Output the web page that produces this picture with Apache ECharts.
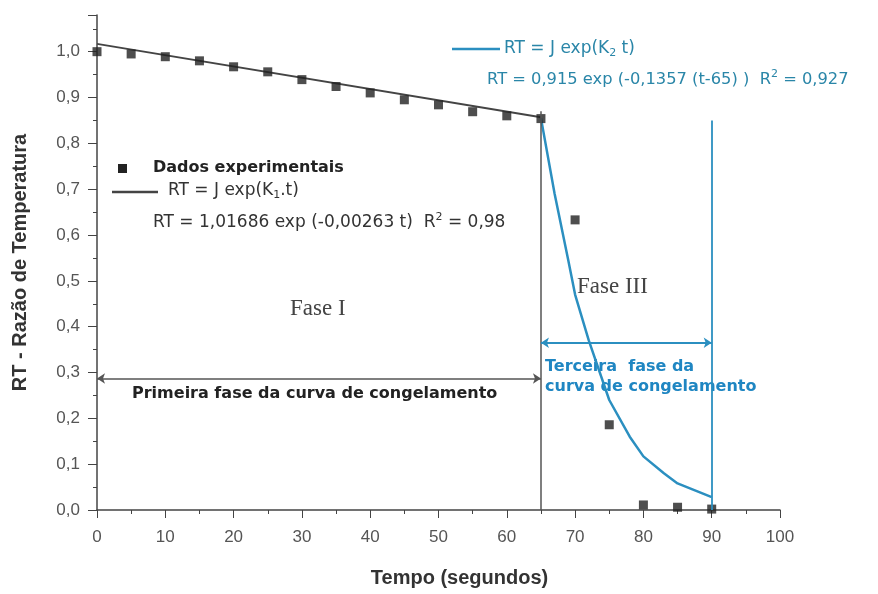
<!DOCTYPE html>
<html>
<head>
<meta charset="utf-8">
<script src="https://cdn.jsdelivr.net/npm/echarts@6/dist/echarts.min.js"></script>
<style>
  html, body { margin: 0; padding: 0; background: #fff; }
  #chart { width: 878px; height: 594px; }
</style>
</head>
<body>
<div id="chart"></div>
<script>
// pontos experimentais (tempo em s, RT)
var tempo = [0, 5, 10, 15, 20, 25, 30, 35, 40, 45, 50, 55, 60, 65, 70, 75, 80, 85, 90];
var rtExp = [1.0, 0.995, 0.989, 0.98, 0.967, 0.956, 0.939, 0.924, 0.91, 0.895, 0.884, 0.869, 0.86, 0.854, 0.633, 0.186, 0.011, 0.006, 0.002];

var tFase1 = [0, 65];
var rtFase1 = [1.017, 0.857];

// ajuste da fase III (curva)
var tFase3 = [65, 67, 69, 70, 72, 75, 78, 80, 83, 85, 88, 90];
var rtFase3 = [0.855, 0.69, 0.545, 0.47, 0.37, 0.24, 0.16, 0.117, 0.08, 0.058, 0.04, 0.028];

var yTicks = ['0,0', '0,1', '0,2', '0,3', '0,4', '0,5', '0,6', '0,7', '0,8', '0,9', '1,0'];

var azul = '#2b8fc0';
var azulTxt = '#2a86a8';
var cinza = '#444';
var fonteLarga = 'DejaVu Sans, Verdana, sans-serif';

function pares(xs, ys) {
  var out = [];
  for (var i = 0; i < xs.length; i++) out.push([xs[i], ys[i]]);
  return out;
}

var chart = echarts.init(document.getElementById('chart'));

var option = {
  animation: false,
  backgroundColor: '#fff',
  textStyle: { fontFamily: 'Liberation Sans, Arial, sans-serif' },
  grid: { left: 97, right: 98, top: 15, bottom: 84 },
  xAxis: {
    type: 'value', min: 0, max: 100, interval: 10,
    name: 'Tempo (segundos)', nameLocation: 'middle', nameGap: 58,
    nameTextStyle: { fontSize: 20, fontWeight: 'bold', color: '#333', padding: [0, 0, 0, 42] },
    axisLine: { show: true, onZero: false, lineStyle: { color: cinza, width: 1.5 } },
    axisTick: { show: true, length: 8, lineStyle: { color: cinza } },
    minorTick: { show: true, splitNumber: 2, length: 4, lineStyle: { color: cinza } },
    axisLabel: { fontSize: 17, color: '#555', margin: 19 },
    splitLine: { show: false }
  },
  yAxis: {
    type: 'value', min: 0, max: 1.08, interval: 0.1,
    name: 'RT - Razão de Temperatura', nameLocation: 'middle', nameGap: 67,
    nameTextStyle: { fontSize: 20, fontWeight: 'bold', color: '#333' },
    axisLine: { show: true, onZero: false, lineStyle: { color: cinza, width: 1.5 } },
    axisTick: { show: true, length: 9, lineStyle: { color: cinza } },
    minorTick: { show: true, splitNumber: 2, length: 4, lineStyle: { color: cinza } },
    axisLabel: {
      fontSize: 17, color: '#555', margin: 17, showMaxLabel: false,
      formatter: function (v) {
        var i = Math.round(v * 10);
        return Math.abs(v * 10 - i) < 1e-6 && i < yTicks.length ? yTicks[i] : '';
      }
    },
    splitLine: { show: false }
  },
  series: [
    {
      name: 'Fase I', type: 'line', data: pares(tFase1, rtFase1),
      showSymbol: false, lineStyle: { color: cinza, width: 2 }, z: 2,
      markLine: {
        silent: true, symbol: 'none', label: { show: false },
        lineStyle: { color: '#555', width: 1.5, type: 'solid' },
        data: [
          [{ coord: [65, 0] }, { coord: [65, 0.87] }],
          [{ coord: [0, 0.287], symbol: 'arrow', symbolSize: 8 }, { coord: [65, 0.287], symbol: 'arrow', symbolSize: 8 }]
        ]
      }
    },
    {
      name: 'Fase III', type: 'line', data: pares(tFase3, rtFase3),
      showSymbol: false, lineStyle: { color: azul, width: 2.5 }, z: 2,
      markLine: {
        silent: true, symbol: 'none', label: { show: false },
        lineStyle: { color: azul, width: 1.8, type: 'solid' },
        data: [
          [{ coord: [90, 0] }, { coord: [90, 0.85] }],
          [{ coord: [65, 0.365], symbol: 'arrow', symbolSize: 8 }, { coord: [90, 0.365], symbol: 'arrow', symbolSize: 8 }]
        ]
      }
    },
    {
      name: 'Dados experimentais', type: 'scatter', data: pares(tempo, rtExp),
      symbol: 'rect', symbolSize: 9, itemStyle: { color: '#222' }, z: 3
    }
  ],
  graphic: [
    // legenda fase III
    { type: 'line', shape: { x1: 452, y1: 49, x2: 500, y2: 49 }, style: { stroke: azul, lineWidth: 2.5 } },
    {
      type: 'text', left: 504, top: 40,
      style: {
        text: '{n|RT = J exp(K}{s|2}{n| t)}',
        rich: {
          n: { fontSize: 17, fontFamily: fonteLarga, fill: azulTxt },
          s: { fontSize: 11, fontFamily: fonteLarga, fill: azulTxt, padding: [10, 0, 0, 0] }
        }
      }
    },
    {
      type: 'text', left: 487, top: 69,
      style: {
        text: '{n|RT = 0,915 exp (-0,1357 (t-65) )  R}{p|2}{n| = 0,927}',
        rich: {
          n: { fontSize: 16.3, fontFamily: fonteLarga, fill: azulTxt },
          p: { fontSize: 11, fontFamily: fonteLarga, fill: azulTxt, padding: [0, 0, 10, 0] }
        }
      }
    },
    // legenda fase I
    { type: 'rect', shape: { x: 118, y: 164, width: 9, height: 9 }, style: { fill: '#222' } },
    {
      type: 'text', left: 153, top: 160,
      style: { text: 'Dados experimentais', fontSize: 16, fontWeight: 'bold', fontFamily: fonteLarga, fill: '#222' }
    },
    { type: 'line', shape: { x1: 112, y1: 192, x2: 158, y2: 192 }, style: { stroke: cinza, lineWidth: 2.5 } },
    {
      type: 'text', left: 168, top: 182,
      style: {
        text: '{n|RT = J exp(K}{s|1}{n|.t)}',
        rich: {
          n: { fontSize: 17, fontFamily: fonteLarga, fill: '#333' },
          s: { fontSize: 11, fontFamily: fonteLarga, fill: '#333', padding: [10, 0, 0, 0] }
        }
      }
    },
    {
      type: 'text', left: 153, top: 212,
      style: {
        text: '{n|RT = 1,01686 exp (-0,00263 t)  R}{p|2}{n| = 0,98}',
        rich: {
          n: { fontSize: 17, fontFamily: fonteLarga, fill: '#333' },
          p: { fontSize: 11, fontFamily: fonteLarga, fill: '#333', padding: [0, 0, 10, 0] }
        }
      }
    },
    // anotacoes
    {
      type: 'text', left: 290, top: 297,
      style: { text: 'Fase I', fontSize: 23, fontFamily: 'Liberation Serif, serif', fill: '#444' }
    },
    {
      type: 'text', left: 577, top: 275,
      style: { text: 'Fase III', fontSize: 23, fontFamily: 'Liberation Serif, serif', fill: '#444' }
    },
    {
      type: 'text', left: 132, top: 386,
      style: { text: 'Primeira fase da curva de congelamento', fontSize: 16, fontWeight: 'bold', fontFamily: fonteLarga, fill: '#222' }
    },
    {
      type: 'text', left: 545, top: 357,
      style: {
        text: 'Terceira  fase da\ncurva de congelamento', fontSize: 16, fontWeight: 'bold',
        fontFamily: fonteLarga, fill: '#1f86c2', lineHeight: 20
      }
    }
  ]
};

chart.setOption(option);
</script>
</body>
</html>
